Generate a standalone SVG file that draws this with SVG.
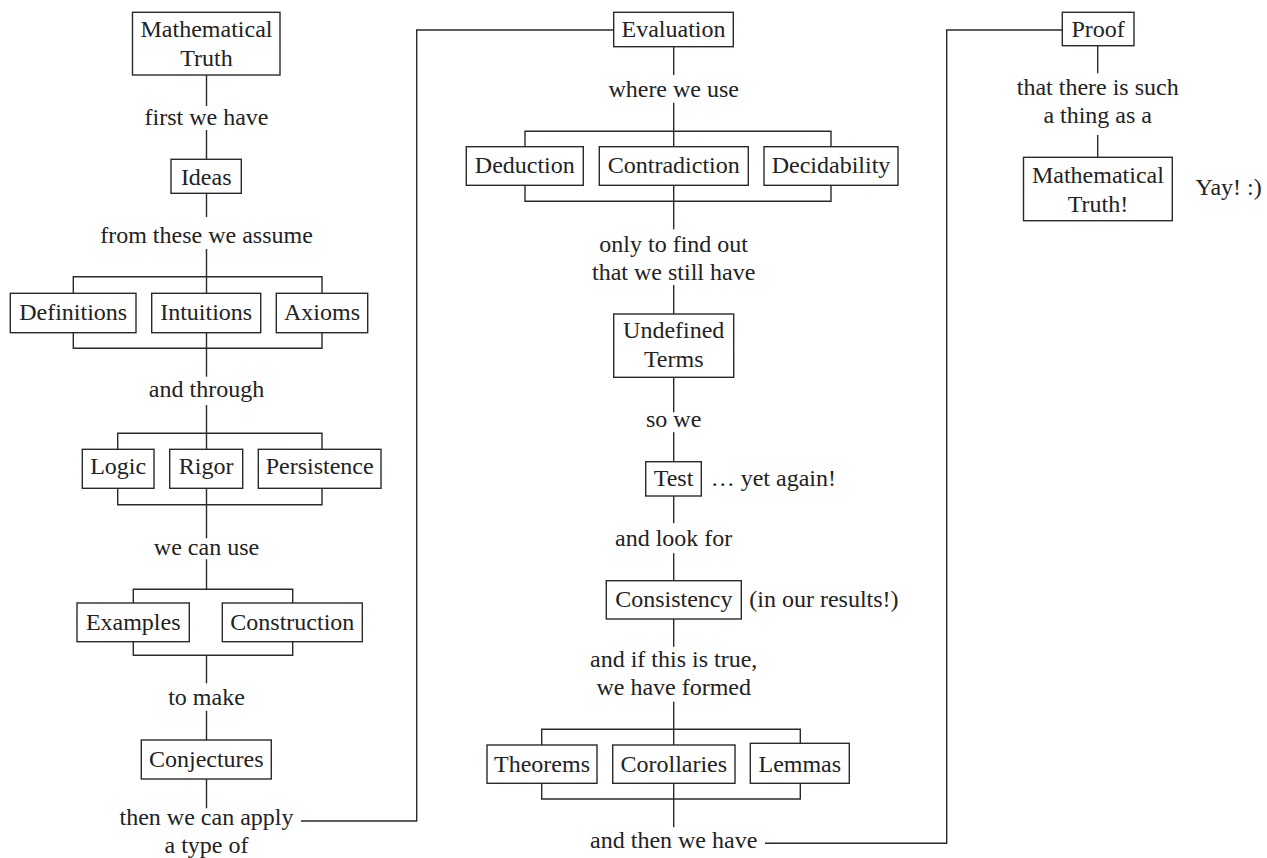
<svg xmlns="http://www.w3.org/2000/svg" width="1267" height="858" viewBox="0 0 1267 858">
<style>
.bg{fill:#ffffff}
rect.n{fill:#ffffff;stroke:#2a2a2a;stroke-width:1.4}
path.c{fill:none;stroke:#2a2a2a;stroke-width:1.4}
text{font-family:"Liberation Serif","Times New Roman",serif;font-size:24px;fill:#222222;text-anchor:middle}
text.l{text-anchor:start}
</style>
<rect class="bg" x="0" y="0" width="1267" height="858"/>
<g id="connectors">
<!-- column 1 -->
<path class="c" d="M206.5,75V106M206.5,130V159.3M206.5,193.3V217M206.5,249V293.3"/>
<path class="c" d="M73.3,293.3V276.7H322V293.3"/>
<path class="c" d="M73.3,332.7V348.3H322V332.7M206.5,332.7V376.7M206.5,405V449.3"/>
<path class="c" d="M117.7,449.3V433.3H322V449.3"/>
<path class="c" d="M117.7,488.3V504.7H322V488.3M206.5,488.3V538.3M206.5,559.3V589.3"/>
<path class="c" d="M133.3,603V589.3H292.7V603"/>
<path class="c" d="M133.3,641.7V655.3H292.7V641.7M206.5,655.3V683.3M206.5,710.7V740M206.5,779V808.3"/>
<path class="c" d="M301,821H416.7V30H613.7"/>
<!-- column 2 -->
<path class="c" d="M673.7,46.7V75M673.7,102.7V146.7"/>
<path class="c" d="M525,146.7V131.3H831V146.7"/>
<path class="c" d="M525,185.3V201.3H831V185.3M673.7,185.3V229.3M673.7,285V314M673.7,377.3V412.3M673.7,432.3V461.7M673.7,496V523.3M673.7,553.3V580.7M673.7,619V646.7M673.7,701.7V745"/>
<path class="c" d="M541.7,745V729.3H800.3V743.3"/>
<path class="c" d="M541.7,783.3V799H800.3V783.3M673.7,783.3V827.3"/>
<path class="c" d="M765,843.3H946.7V30H1062.3"/>
<!-- column 3 -->
<path class="c" d="M1097.7,45.7V73.3M1097.7,135V157.3"/>
</g>
<g id="labels">
<text x="206.5" y="125">first we have</text>
<text x="206.5" y="242.7">from these we assume</text>
<text x="206.5" y="397">and through</text>
<text x="206.5" y="555">we can use</text>
<text x="206.5" y="705">to make</text>
<text x="206.5" y="825">then we can apply</text>
<text x="206.5" y="852.7">a type of</text>
<text x="673.7" y="96.7">where we use</text>
<text x="673.7" y="251.7">only to find out</text>
<text x="673.7" y="280">that we still have</text>
<text x="673.7" y="427">so we</text>
<text class="l" x="710.7" y="486">… yet again!</text>
<text x="673.7" y="546">and look for</text>
<text class="l" x="749.3" y="606.7">(in our results!)</text>
<text x="673.7" y="667.3">and if this is true,</text>
<text x="673.7" y="695">we have formed</text>
<text x="673.7" y="848.3">and then we have</text>
<text x="1097.7" y="95">that there is such</text>
<text x="1097.7" y="122.7">a thing as a</text>
<text class="l" x="1195.5" y="195">Yay! :)</text>
</g>
<g id="n-mathematical-truth"><rect class="n" x="132.5" y="12.3" width="147.5" height="62.7"/><text x="206.5" y="36.7">Mathematical</text><text x="206.5" y="65.7">Truth</text></g>
<g id="n-ideas"><rect class="n" x="171" y="159.3" width="70.3" height="34"/><text x="206.2" y="185">Ideas</text></g>
<g id="n-definitions"><rect class="n" x="10.3" y="293.3" width="125.7" height="39.4"/><text x="73.2" y="320">Definitions</text></g>
<g id="n-intuitions"><rect class="n" x="151.7" y="293.3" width="109" height="39.4"/><text x="206.2" y="320">Intuitions</text></g>
<g id="n-axioms"><rect class="n" x="276.3" y="293.3" width="91.4" height="39.4"/><text x="322" y="320">Axioms</text></g>
<g id="n-logic"><rect class="n" x="82.3" y="449.3" width="71.7" height="39"/><text x="118.2" y="474">Logic</text></g>
<g id="n-rigor"><rect class="n" x="169.7" y="449.3" width="73" height="39"/><text x="206.2" y="474">Rigor</text></g>
<g id="n-persistence"><rect class="n" x="258.3" y="449.3" width="122.7" height="39"/><text x="319.7" y="474">Persistence</text></g>
<g id="n-examples"><rect class="n" x="77" y="603" width="112.3" height="38.7"/><text x="133.2" y="630">Examples</text></g>
<g id="n-construction"><rect class="n" x="222.3" y="603" width="140" height="38.7"/><text x="292.3" y="630">Construction</text></g>
<g id="n-conjectures"><rect class="n" x="141.3" y="740" width="130" height="39"/><text x="206.3" y="766.7">Conjectures</text></g>
<g id="n-evaluation"><rect class="n" x="613.7" y="12.3" width="119.6" height="34.4"/><text x="673.5" y="36.7">Evaluation</text></g>
<g id="n-deduction"><rect class="n" x="466.3" y="146.7" width="117" height="38.6"/><text x="524.8" y="173.3">Deduction</text></g>
<g id="n-contradiction"><rect class="n" x="599.3" y="146.7" width="149" height="38.6"/><text x="673.8" y="173.3">Contradiction</text></g>
<g id="n-decidability"><rect class="n" x="764" y="146.7" width="134" height="38.6"/><text x="831" y="173.3">Decidability</text></g>
<g id="n-undefined-terms"><rect class="n" x="613.7" y="314" width="120" height="63.3"/><text x="673.7" y="338.3">Undefined</text><text x="673.7" y="366.7">Terms</text></g>
<g id="n-test"><rect class="n" x="645.7" y="461.7" width="55.6" height="34.3"/><text x="673.5" y="486">Test</text></g>
<g id="n-consistency"><rect class="n" x="606.3" y="580.7" width="135" height="38.3"/><text x="673.8" y="606.7">Consistency</text></g>
<g id="n-theorems"><rect class="n" x="487" y="745" width="110" height="38.3"/><text x="542" y="771.7">Theorems</text></g>
<g id="n-corollaries"><rect class="n" x="612.7" y="745" width="122.3" height="38.3"/><text x="673.8" y="771.7">Corollaries</text></g>
<g id="n-lemmas"><rect class="n" x="750.3" y="743.3" width="99" height="40"/><text x="799.8" y="771.7">Lemmas</text></g>
<g id="n-proof"><rect class="n" x="1062.3" y="12.3" width="71.7" height="33.4"/><text x="1098.2" y="36.7">Proof</text></g>
<g id="n-mathematical-truth-final"><rect class="n" x="1023.5" y="157.3" width="148.8" height="63.4"/><text x="1097.9" y="183.3">Mathematical</text><text x="1097.9" y="211.7">Truth!</text></g>
</svg>
